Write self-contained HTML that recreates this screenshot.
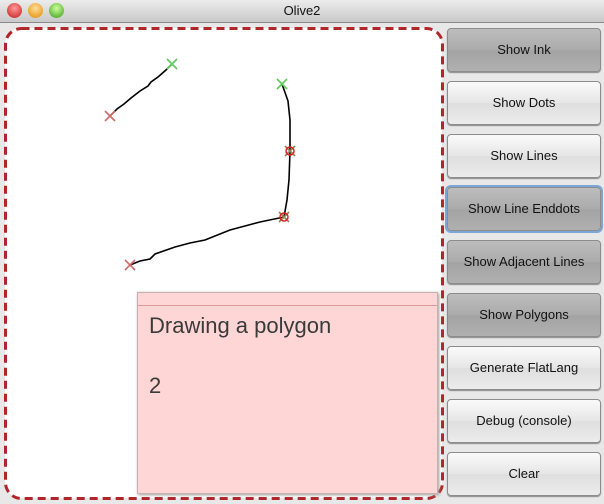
<!DOCTYPE html>
<html><head><meta charset="utf-8"><style>
body{margin:0;width:604px;height:504px;overflow:hidden;background:#e8e8e8;font-family:"Liberation Sans",sans-serif;position:relative}
#titlebar{position:absolute;left:0;top:0;width:604px;height:22px;background:linear-gradient(#ececec,#c9c9c9);border-bottom:1px solid #8a8a8a;text-align:center;font-size:13px;line-height:22px;color:#111}
.light{position:absolute;top:3px;width:15px;height:15px;border-radius:50%}
#canvas{position:absolute;left:5px;top:28px;width:437px;height:470px;background:#fff;border-radius:16px}
.btn{position:absolute;left:447px;width:152px;height:42px;border:1px solid #8c8c8c;border-radius:4px;font-size:13px;text-align:center;line-height:42px;color:#111;background:linear-gradient(#fafafa,#e6e6e6 50%,#dedede 51%,#ececec);box-shadow:0 1px 1px #888}
.dark{background:linear-gradient(#bdbdbd,#ababab 50%,#a3a3a3 51%,#b0b0b0)}
.focus{box-shadow:0 0 0 2px #7aa6d8}
#note{position:absolute;left:137px;top:292px;width:299px;height:200px;background:#ffd6d6;border:1px solid #c9b0b0;box-shadow:1px 1px 3px #999}
#note .bar{height:12px;border-bottom:1px solid #e09a9a}
#note p{margin:0;position:absolute;left:11px;font-size:22px;color:#3a3a3a}
</style></head><body>
<div id="titlebar">Olive2
<span class="light" style="left:7px;background:radial-gradient(circle at 50% 35%,#f99,#c21a1a)"></span>
<span class="light" style="left:28px;background:radial-gradient(circle at 50% 35%,#fd9,#e08a00)"></span>
<span class="light" style="left:49px;background:radial-gradient(circle at 50% 35%,#cf9,#3a9a1a)"></span>
</div>
<div id="canvas"></div>
<svg id="frame" width="604" height="504" style="position:absolute;left:0;top:0">
<rect x="5.5" y="28.5" width="437" height="470" rx="16" fill="none" stroke="#b0262a" stroke-width="3" stroke-dasharray="8 5"/></svg>
<svg id="ink" width="604" height="504" style="position:absolute;left:0;top:0"></svg>
<div id="note"><div class="bar"></div>
<p style="top:20px">Drawing a polygon</p>
<p style="top:80px">2</p></div>
<div class="btn dark" style="top:28px">Show Ink</div>
<div class="btn" style="top:81px">Show Dots</div>
<div class="btn" style="top:134px">Show Lines</div>
<div class="btn dark focus" style="top:187px">Show Line Enddots</div>
<div class="btn dark" style="top:240px">Show Adjacent Lines</div>
<div class="btn dark" style="top:293px">Show Polygons</div>
<div class="btn" style="top:346px">Generate FlatLang</div>
<div class="btn" style="top:399px">Debug (console)</div>
<div class="btn" style="top:452px">Clear</div>
<script>
const stroke1=[[110,116],[117,109],[124,104],[131,98],[140,91],[148,86],[151,82],[158,77],[166,70],[172,64]];
const stroke2=[[282,84],[288,101],[290,120],[290,151],[289,180],[287,200],[284,217],[260,222],[230,230],[205,240],[190,243],[175,247],[155,254],[150,259],[140,261],[130,265]];
const endsRed=[[110,116],[130,265]];
const endsGreen=[[172,64],[282,84]];
const corners=[[290,151],[284,217]];
const svg=document.getElementById('ink');const NS='http://www.w3.org/2000/svg';
function mk(t,a){const e=document.createElementNS(NS,t);for(const k in a)e.setAttribute(k,a[k]);svg.appendChild(e);return e;}
[stroke1,stroke2].forEach(s=>{const e=mk('polyline',{points:s.map(p=>p.join(',')).join(' '),fill:'none',stroke:'#000','stroke-width':1.6});

});
function cross(p,c){const e=mk('path',{d:`M${p[0]-5},${p[1]-5}L${p[0]+5},${p[1]+5}M${p[0]+5},${p[1]-5}L${p[0]-5},${p[1]+5}`,stroke:c,'stroke-width':1.6});

}
endsRed.forEach(p=>cross(p,'#d06a6a'));endsGreen.forEach(p=>cross(p,'#5ccc5c'));
corners.forEach(p=>{cross(p,'#8a8a5a');const e=mk('circle',{cx:p[0],cy:p[1],r:4,fill:'none',stroke:'#e02020','stroke-width':1.5});

});
</script>
</body></html>
